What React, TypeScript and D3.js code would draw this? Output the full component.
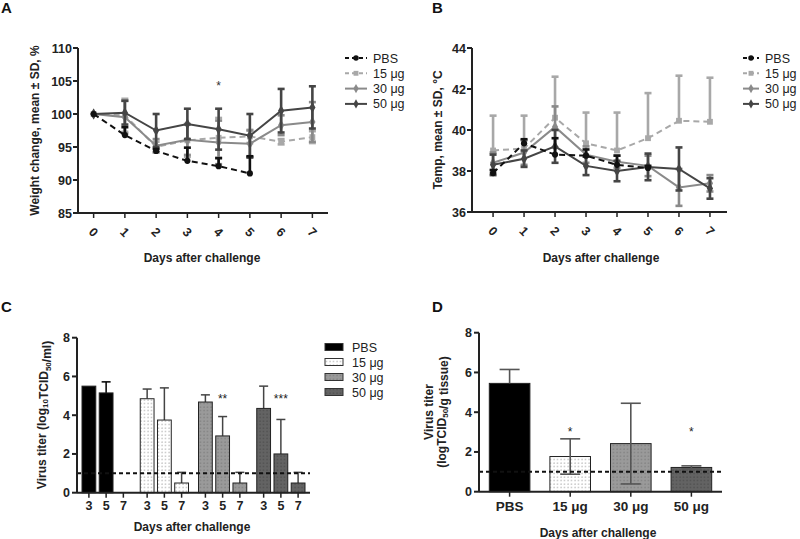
import React from "react"
import * as d3 from "d3"

const FONT = "'Liberation Sans', Arial, sans-serif"

// Data
const days = [0, 1, 2, 3, 4, 5, 6, 7]
const groups = ["PBS", "15 μg", "30 μg", "50 μg"]
const titerDays = ["3", "5", "7"]

// A: weight change, mean ± SD (%)
const weightPBS = [100, 96.8, 94.4, 92.9, 92.1, 91.0]
const weightPBSSd = [0, 1.2, 0.3, 2.0, 1.2, 2.6]
const weight15 = [100, 99.8, 95.0, 96.0, 96.4, 96.6, 95.8, 96.5]
const weight15Sd = [0, 2.5, 0.8, 2.5, 3.0, 1.0, 0.4, 0.9]
const weight30 = [100, 99.5, 95.2, 96.1, 95.7, 95.5, 98.3, 98.8]
const weight30Sd = [0, 2.5, 1.0, 2.3, 3.3, 2.0, 1.5, 3.0]
const weight50 = [100, 100.2, 97.5, 98.5, 97.7, 96.7, 100.5, 101.0]
const weight50Sd = [0, 1.8, 2.5, 2.3, 3.1, 3.3, 3.3, 3.2]
const weightTicks = [85, 90, 95, 100, 105, 110]

// B: temperature, mean ± SD (°C)
const tempPBS = [37.9, 39.35, 38.8, 38.75, 38.3, 38.15]
const tempPBSSd = [0.15, 0.2, 0.8, 0.3, 0.45, 0.1]
const temp15 = [39.0, 39.1, 40.6, 39.35, 39.0, 39.6, 40.45, 40.4]
const temp15Sd = [1.7, 1.6, 2.0, 1.5, 1.85, 2.2, 2.2, 2.15]
const temp30 = [38.4, 38.9, 40.15, 38.8, 38.45, 38.25, 37.2, 37.4]
const temp30Sd = [0.5, 0.6, 1.0, 0.4, 0.3, 0.5, 0.9, 0.4]
const temp50 = [38.3, 38.6, 39.2, 38.25, 38.0, 38.2, 38.1, 37.15]
const temp50Sd = [0.5, 0.4, 0.8, 0.45, 0.5, 0.65, 1.05, 0.5]
const tempTicks = [36, 38, 40, 42, 44]

// C: virus titer in nasal wash by day (log10 TCID50/ml)
const titerPBS = [5.5, 5.15, null]
const titerPBSSd = [0, 0.57, 0]
const titer15 = [4.85, 3.75, 0.5]
const titer15Sd = [0.5, 1.66, 0.55]
const titer30 = [4.68, 2.93, 0.5]
const titer30Sd = [0.37, 1.0, 0.55]
const titer50 = [4.35, 2.0, 0.5]
const titer50Sd = [1.15, 1.78, 0.55]
const titerStars = ["", "", "**", "***"]

// D: virus titer in tissue (log TCID50/g)
const tissueTiter = [5.45, 1.77, 2.42, 1.22]
const tissueTiterSd = [0.7, 0.89, 2.03, 0.08]
const tissueStars = ["", "*", "", "*"]
const titerTicks = [0, 2, 4, 6, 8]
const detectionLimit = 1

// Styles per group
const lineColors = ["#111", "#a8a8a8", "#8a8a8a", "#454545"]
const lineDash = ["6,4", "6,4", null, null]
const symbols = [d3.symbolCircle, d3.symbolSquare, d3.symbolDiamond, d3.symbolDiamond]
const barFills = ["#000", "url(#dots15)", "url(#dots30)", "url(#dots50)"]
const errColors = ["#000", "#444", "#444", "#444"]

type Series = { values: (number | null)[]; sd: number[]; upperOnly?: boolean }

function LinePanel({ left, right, top, bottom, xDomain, yDomain, yTicks, series, legendX, legendLen, stars, yTitle, yTitleX, titleX }: any) {
  const x = d3.scaleLinear().domain(xDomain).range([left, right])
  const y = d3.scaleLinear().domain(yDomain).range([bottom, top])
  const order = [1, 2, 3, 0]
  return (
    <g fontFamily={FONT}>
      <line x1={left} x2={left} y1={top} y2={bottom} stroke="#222" strokeWidth={2} />
      <line x1={left} x2={right} y1={bottom} y2={bottom} stroke="#222" strokeWidth={2} />
      {yTicks.map((t: number) => (
        <g key={t}>
          <line x1={left - 5} x2={left} y1={y(t)} y2={y(t)} stroke="#222" strokeWidth={2} />
          <text x={left - 6} y={y(t)} dy="0.36em" textAnchor="end" fontSize={12.5} fontWeight="bold" fill="#222">{t}</text>
        </g>
      ))}
      {days.map((d) => (
        <g key={d}>
          <line x1={x(d)} x2={x(d)} y1={bottom} y2={bottom + 5} stroke="#222" strokeWidth={1.5} />
          <text transform={`translate(${x(d)},${bottom + 19}) rotate(45)`} textAnchor="middle" dy="0.35em" fontSize={12.5} fontWeight="bold" fill="#222">{d}</text>
        </g>
      ))}
      {order.map((gi) => {
        const s: Series = series[gi]
        const pts = s.values.map((v, i) => [days[i], v] as [number, number | null]).filter((p) => p[1] != null) as [number, number][]
        const path = d3.line<[number, number]>().x((p) => x(p[0])).y((p) => y(p[1]))(pts) || ""
        const sym = d3.symbol().type(symbols[gi]).size(gi === 0 ? 30 : 34)()
        return (
          <g key={gi}>
            {pts.map(([d, v], i) => {
              const sd = s.sd[i]
              if (!sd) return null
              const y1 = y(v + sd)
              const y2 = s.upperOnly ? y(v) : y(v - sd)
              return (
                <g key={i} stroke={lineColors[gi]} strokeWidth={2.6}>
                  <line x1={x(d)} x2={x(d)} y1={y1} y2={y2} />
                  <line x1={x(d) - 3.5} x2={x(d) + 3.5} y1={y1} y2={y1} />
                  {!s.upperOnly && <line x1={x(d) - 3.5} x2={x(d) + 3.5} y1={y2} y2={y2} />}
                </g>
              )
            })}
            <path d={path} fill="none" stroke={lineColors[gi]} strokeWidth={2} strokeDasharray={lineDash[gi] || undefined} />
            {pts.map(([d, v], i) => (
              <path key={i} d={sym} transform={`translate(${x(d)},${y(v)})`} fill={lineColors[gi]} />
            ))}
          </g>
        )
      })}
      {stars.map((s: string, i: number) => s ? (
        <text key={i} x={x(days[i])} y={y(series[0].values[0] as number) - 30} dy="0.5em" textAnchor="middle" fontSize={12} fill="#333">{s}</text>
      ) : null)}
      <text x={titleX} y={262} textAnchor="middle" fontSize={12} fontWeight="bold" fill="#222">Days after challenge</text>
      <text transform={`translate(${yTitleX},${(top + bottom) / 2}) rotate(-90)`} textAnchor="middle" fontSize={12} fontWeight="bold" fill="#222">{yTitle}</text>
      {groups.map((g, gi) => {
        const ly = 58 + gi * 15.3
        const sym = d3.symbol().type(symbols[gi]).size(24)()
        return (
          <g key={g}>
            <line x1={legendX} x2={legendX + legendLen} y1={ly} y2={ly} stroke={lineColors[gi]} strokeWidth={2} strokeDasharray={lineDash[gi] ? "4,3" : undefined} />
            <path d={sym} transform={`translate(${legendX + legendLen / 2},${ly})`} fill={lineColors[gi]} />
            <text x={legendX + legendLen + 6} y={ly} dy="0.36em" fontSize={12.5} fill="#222">{g}</text>
          </g>
        )
      })}
    </g>
  )
}

function ErrorBar({ cx, yTop, yBottom, color, cap }: any) {
  return (
    <g stroke={color} strokeWidth={1.5}>
      <line x1={cx} x2={cx} y1={yTop} y2={yBottom} />
      <line x1={cx - cap} x2={cx + cap} y1={yTop} y2={yTop} />
    </g>
  )
}

export default function App() {
  // A / B series
  const weightSeries: Series[] = [
    { values: weightPBS, sd: weightPBSSd, upperOnly: true },
    { values: weight15, sd: weight15Sd },
    { values: weight30, sd: weight30Sd },
    { values: weight50, sd: weight50Sd },
  ]
  const tempSeries: Series[] = [
    { values: tempPBS, sd: tempPBSSd, upperOnly: true },
    { values: temp15, sd: temp15Sd, upperOnly: true },
    { values: temp30, sd: temp30Sd },
    { values: temp50, sd: temp50Sd },
  ]
  const starsA = ["", "", "", "", "*", "", "", ""]

  // C scales
  const cLeft = 77, cRight = 310, cTop = 337.7, cBottom = 492.7
  const cy = d3.scaleLinear().domain([0, 8]).range([cBottom, cTop])
  const cGroup = d3.scaleBand().domain(groups).range([cLeft, cRight])
  const cDay = d3.scaleBand().domain(titerDays).range([5, cGroup.bandwidth() - 5]).paddingInner(0.2)
  const titerValues = [titerPBS, titer15, titer30, titer50]
  const titerSds = [titerPBSSd, titer15Sd, titer30Sd, titer50Sd]

  // D scales
  const dLeft = 479, dRight = 722, dTop = 332.7, dBottom = 491.7
  const dy = d3.scaleLinear().domain([0, 8]).range([dBottom, dTop])
  const dx = d3.scaleBand().domain(groups).range([dLeft, dRight]).paddingInner(0.33).paddingOuter(0.17)

  const sub = (t: string) => (
    <>
      <tspan dy="0.3em" fontSize={8}>{t}</tspan>
      <tspan dy="-0.3em">{""}</tspan>
    </>
  )

  return (
    <svg width={800} height={539} style={{ position: "absolute", left: 0, top: 0, background: "#fff" }} fontFamily={FONT}>
      <defs>
        <pattern id="dots15" width={3.5} height={3.5} patternUnits="userSpaceOnUse">
          <rect width={3.5} height={3.5} fill="#fff" />
          <circle cx={1} cy={1} r={0.55} fill="#777" />
        </pattern>
        <pattern id="dots30" width={3.5} height={3.5} patternUnits="userSpaceOnUse">
          <rect width={3.5} height={3.5} fill="#9a9a9a" />
          <circle cx={1} cy={1} r={0.55} fill="#666" />
        </pattern>
        <pattern id="dots50" width={3.5} height={3.5} patternUnits="userSpaceOnUse">
          <rect width={3.5} height={3.5} fill="#636363" />
          <circle cx={1} cy={1} r={0.55} fill="#3a3a3a" />
        </pattern>
      </defs>
      <rect width={800} height={539} fill="#fff" />

      {/* Panel letters */}
      <g fontSize={15} fontWeight="bold" fill="#111">
        <text x={1} y={13}>A</text>
        <text x={432} y={13}>B</text>
        <text x={1} y={312}>C</text>
        <text x={432} y={312}>D</text>
      </g>

      <LinePanel left={78} right={328} top={48} bottom={213} xDomain={[-0.5, 7.5]} yDomain={[85, 110]}
        yTicks={weightTicks} series={weightSeries} legendX={345} legendLen={22} stars={starsA}
        yTitle="Weight change, mean ± SD, %" yTitleX={39} titleX={202} />
      <LinePanel left={472} right={727} top={48} bottom={212} xDomain={[-0.68, 7.55]} yDomain={[36, 44]}
        yTicks={tempTicks} series={tempSeries} legendX={743} legendLen={16} stars={[]}
        yTitle="Temp, mean ± SD, °C" yTitleX={442} titleX={601} />

      {/* Panel C */}
      <g fontFamily={FONT}>
        {groups.map((g, gi) => (
          <g key={g}>
            {titerDays.map((d, di) => {
              const v = titerValues[gi][di]
              const bx = (cGroup(g) as number) + (cDay(d) as number)
              const cx = bx + cDay.bandwidth() / 2
              return (
                <g key={d}>
                  {v != null && (
                    <>
                      {titerSds[gi][di] > 0 && (
                        <ErrorBar cx={cx} yTop={cy(v + titerSds[gi][di])} yBottom={cy(v)} color={errColors[gi]} cap={4.5} />
                      )}
                      <rect x={bx} y={cy(v)} width={cDay.bandwidth()} height={cBottom - cy(v)} fill={barFills[gi]} stroke="#222" strokeWidth={1} />
                    </>
                  )}
                  <line x1={cx} x2={cx} y1={cBottom} y2={cBottom + 5} stroke="#222" strokeWidth={1.5} />
                  <text x={cx} y={cBottom + 17} textAnchor="middle" fontSize={12.5} fontWeight="bold" fill="#222">{d}</text>
                </g>
              )
            })}
            {titerStars[gi] && (
              <text x={(cGroup(g) as number) + (cDay("5") as number) + cDay.bandwidth() / 2} y={cy(5.05)} dy="0.7em" textAnchor="middle" fontSize={12} fill="#222">{titerStars[gi]}</text>
            )}
          </g>
        ))}
        <line x1={cLeft} x2={cRight} y1={cy(detectionLimit)} y2={cy(detectionLimit)} stroke="#111" strokeWidth={2} strokeDasharray="4,3" />
        <line x1={cLeft} x2={cLeft} y1={cTop} y2={cBottom} stroke="#222" strokeWidth={2} />
        <line x1={cLeft} x2={cRight} y1={cBottom} y2={cBottom} stroke="#222" strokeWidth={2} />
        {titerTicks.map((t) => (
          <g key={t}>
            <line x1={cLeft - 5} x2={cLeft} y1={cy(t)} y2={cy(t)} stroke="#222" strokeWidth={2} />
            <text x={cLeft - 7} y={cy(t)} dy="0.36em" textAnchor="end" fontSize={12.5} fontWeight="bold" fill="#222">{t}</text>
          </g>
        ))}
        <text x={192} y={531} textAnchor="middle" fontSize={12} fontWeight="bold" fill="#222">Days after challenge</text>
        <text transform={`translate(46,415) rotate(-90)`} textAnchor="middle" fontSize={12} fontWeight="bold" fill="#222">
          Virus titer (log{sub("10")}TCID{sub("50")}/ml)
        </text>
        {groups.map((g, gi) => {
          const ly = 347 + gi * 15
          return (
            <g key={g}>
              <rect x={325} y={ly - 3.5} width={18} height={7} fill={barFills[gi]} stroke="#333" strokeWidth={1} />
              <text x={352} y={ly} dy="0.36em" fontSize={12.5} fill="#222">{g}</text>
            </g>
          )
        })}
      </g>

      {/* Panel D */}
      <g fontFamily={FONT}>
        {groups.map((g, gi) => {
          const v = tissueTiter[gi]
          const sd = tissueTiterSd[gi]
          const bx = dx(g) as number
          const cx = bx + dx.bandwidth() / 2
          return (
            <g key={g}>
              <rect x={bx} y={dy(v)} width={dx.bandwidth()} height={dBottom - dy(v)} fill={barFills[gi]} stroke="#222" strokeWidth={1} />
              <g stroke="#555" strokeWidth={1.6}>
                <line x1={cx} x2={cx} y1={dy(v + sd)} y2={gi === 0 ? dy(v) : dy(v - sd)} />
                <line x1={cx - 10} x2={cx + 10} y1={dy(v + sd)} y2={dy(v + sd)} />
                {gi > 0 && <line x1={cx - 10} x2={cx + 10} y1={dy(v - sd)} y2={dy(v - sd)} />}
              </g>
              <line x1={cx} x2={cx} y1={dBottom} y2={dBottom + 5} stroke="#222" strokeWidth={1.5} />
              <text x={cx} y={dBottom + 19} textAnchor="middle" fontSize={13.5} fontWeight="bold" fill="#222">{g}</text>
              {tissueStars[gi] && (
                <text x={cx} y={dy(3.25)} dy="0.7em" textAnchor="middle" fontSize={12} fill="#222">{tissueStars[gi]}</text>
              )}
            </g>
          )
        })}
        <line x1={dLeft} x2={dRight} y1={dy(detectionLimit)} y2={dy(detectionLimit)} stroke="#111" strokeWidth={2} strokeDasharray="4,3" />
        <line x1={dLeft} x2={dLeft} y1={dTop} y2={dBottom} stroke="#222" strokeWidth={2} />
        <line x1={dLeft} x2={dRight} y1={dBottom} y2={dBottom} stroke="#222" strokeWidth={2} />
        {titerTicks.map((t) => (
          <g key={t}>
            <line x1={dLeft - 5} x2={dLeft} y1={dy(t)} y2={dy(t)} stroke="#222" strokeWidth={2} />
            <text x={dLeft - 7} y={dy(t)} dy="0.36em" textAnchor="end" fontSize={12.5} fontWeight="bold" fill="#222">{t}</text>
          </g>
        ))}
        <text x={598} y={537} textAnchor="middle" fontSize={12} fontWeight="bold" fill="#222">Days after challenge</text>
        <text transform={`translate(433,412) rotate(-90)`} textAnchor="middle" fontSize={12} fontWeight="bold" fill="#222">Virus titer</text>
        <text transform={`translate(446,412) rotate(-90)`} textAnchor="middle" fontSize={12} fontWeight="bold" fill="#222">
          (logTCID{sub("50")}/g tissue)
        </text>
      </g>
    </svg>
  )
}
